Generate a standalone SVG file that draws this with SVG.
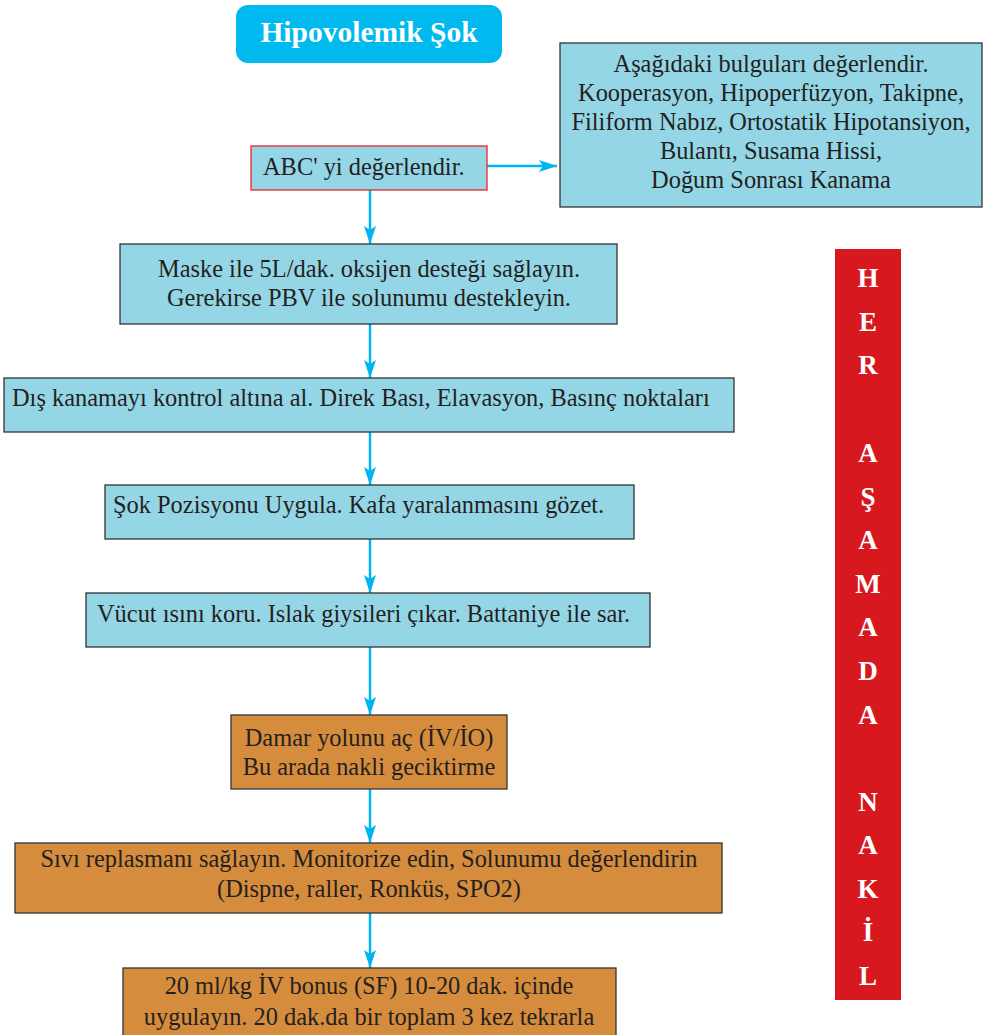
<svg xmlns="http://www.w3.org/2000/svg" width="984" height="1035" viewBox="0 0 984 1035">
<defs>
<style>
.box{fill:#94d6e6;stroke:#333;stroke-width:1.3}
.obox{fill:#d68c3d;stroke:#333;stroke-width:1.3}
.t{font-family:"Liberation Serif","Times New Roman",serif;font-size:24.4px;fill:#231f20}
.c{text-anchor:middle}
.bar{font-family:"Liberation Serif","Times New Roman",serif;font-size:27px;font-weight:bold;fill:#fff;text-anchor:middle}
.conn{stroke:#00b5ef;stroke-width:2.5;fill:none}
</style>
<marker id="a" viewBox="0 0 18 12" refX="18" refY="6" markerWidth="18" markerHeight="12" orient="auto" markerUnits="userSpaceOnUse">
<path d="M0,0 L18,6 L0,12 L4,6 z" fill="#00b5ef"/>
</marker>
</defs>
<rect width="984" height="1035" fill="#fff"/>
<g id="connectors">
<path class="conn" d="M487,166 H557" marker-end="url(#a)"/>
<path class="conn" d="M370,190 V244" marker-end="url(#a)"/>
<path class="conn" d="M370,324 V378" marker-end="url(#a)"/>
<path class="conn" d="M370,432 V485" marker-end="url(#a)"/>
<path class="conn" d="M370,539 V593" marker-end="url(#a)"/>
<path class="conn" d="M370,647 V715" marker-end="url(#a)"/>
<path class="conn" d="M370,789 V843" marker-end="url(#a)"/>
<path class="conn" d="M370,913 V968" marker-end="url(#a)"/>
</g>
<g id="title">
<rect x="236" y="5" width="266" height="58" rx="12" fill="#00b9ee"/>
<text x="369" y="42" font-family="Liberation Serif,serif" font-size="29.5" font-weight="bold" fill="#fff" text-anchor="middle">Hipovolemik Şok</text>
</g>
<g id="findings">
<rect class="box" x="560" y="43" width="422" height="164"/>
<text class="t c" x="771" y="72">Aşağıdaki bulguları değerlendir.</text>
<text class="t c" x="771" y="101">Kooperasyon, Hipoperfüzyon, Takipne,</text>
<text class="t c" x="771" y="130">Filiform Nabız, Ortostatik Hipotansiyon,</text>
<text class="t c" x="771" y="159">Bulantı, Susama Hissi,</text>
<text class="t c" x="771" y="188">Doğum Sonrası Kanama</text>
</g>
<g id="abc">
<rect x="251" y="146" width="236" height="44" fill="#94d6e6" stroke="#e8262d" stroke-width="1.3"/>
<text class="t" x="263" y="175">ABC' yi değerlendir.</text>
</g>
<g id="oxygen">
<rect class="box" x="120" y="244" width="497" height="80"/>
<text class="t c" x="369" y="277">Maske ile 5L/dak. oksijen desteği sağlayın.</text>
<text class="t c" x="369" y="306">Gerekirse PBV ile solunumu destekleyin.</text>
</g>
<g id="bleeding">
<rect class="box" x="4" y="378" width="730" height="54"/>
<text class="t" x="12" y="406">Dış kanamayı kontrol altına al. Direk Bası, Elavasyon, Basınç noktaları</text>
</g>
<g id="position">
<rect class="box" x="105" y="485" width="529" height="54"/>
<text class="t" x="113" y="513">Şok Pozisyonu Uygula. Kafa yaralanmasını gözet.</text>
</g>
<g id="warmth">
<rect class="box" x="86" y="593" width="564" height="54"/>
<text class="t" x="97" y="622">Vücut ısını koru. Islak giysileri çıkar. Battaniye ile sar.</text>
</g>
<g id="iv">
<rect class="obox" x="231" y="715" width="276" height="74"/>
<text class="t c" x="369" y="746">Damar yolunu aç (İV/İO)</text>
<text class="t c" x="369" y="775">Bu arada nakli geciktirme</text>
</g>
<g id="fluid">
<rect class="obox" x="15" y="843" width="707" height="70"/>
<text class="t c" x="369" y="867">Sıvı replasmanı sağlayın. Monitorize edin, Solunumu değerlendirin</text>
<text class="t c" x="369" y="897">(Dispne, raller, Ronküs, SPO2)</text>
</g>
<g id="bolus">
<rect class="obox" x="123" y="968" width="493" height="80"/>
<text class="t c" x="369" y="994">20 ml/kg İV bonus (SF) 10-20 dak. içinde</text>
<text class="t c" x="369" y="1025">uygulayın. 20 dak.da bir toplam 3 kez tekrarla</text>
</g>
<g id="sidebar">
<rect x="835" y="249" width="66" height="751" fill="#d7191f"/>
<text class="bar" x="868" y="287">H</text>
<text class="bar" x="868" y="331">E</text>
<text class="bar" x="868" y="374">R</text>
<text class="bar" x="868" y="462">A</text>
<text class="bar" x="868" y="506">Ş</text>
<text class="bar" x="868" y="549">A</text>
<text class="bar" x="868" y="593">M</text>
<text class="bar" x="868" y="636">A</text>
<text class="bar" x="868" y="680">D</text>
<text class="bar" x="868" y="724">A</text>
<text class="bar" x="868" y="811">N</text>
<text class="bar" x="868" y="854">A</text>
<text class="bar" x="868" y="898">K</text>
<text class="bar" x="868" y="941">İ</text>
<text class="bar" x="868" y="985">L</text>
</g>
</svg>
